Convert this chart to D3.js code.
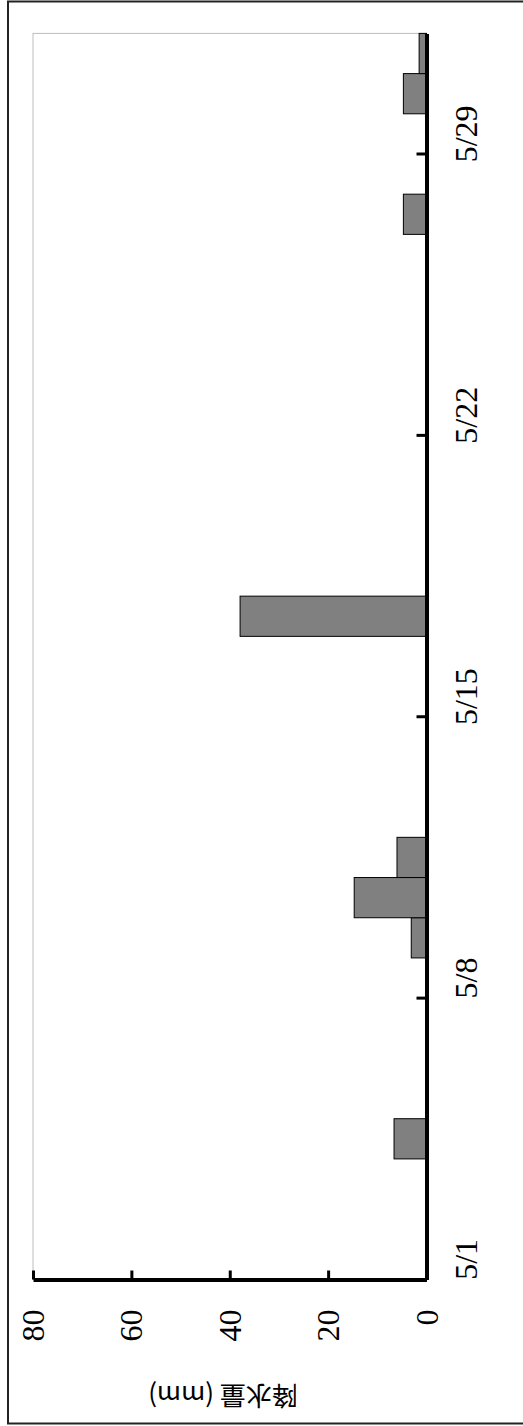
<!DOCTYPE html>
<html>
<head>
<meta charset="utf-8">
<script src="https://cdn.jsdelivr.net/npm/d3@7"></script>
<style>
html,body{margin:0;padding:0;background:#fff;}
svg{display:block;}
</style>
</head>
<body>
<svg id="chart" width="523" height="1426"></svg>
<script>
// Data
const dates = ["5/1","5/2","5/3","5/4","5/5","5/6","5/7","5/8","5/9","5/10","5/11","5/12","5/13","5/14","5/15","5/16","5/17","5/18","5/19","5/20","5/21","5/22","5/23","5/24","5/25","5/26","5/27","5/28","5/29","5/30","5/31"];
const rainfall = [0,0,0,6.6,0,0,0,0,3.1,14.7,6,0,0,0,0,0,37.9,0,0,0,0,0,0,0,0,0,4.7,0,0,4.7,1.5];
const dateTickLabels = ["5/1","5/8","5/15","5/22","5/29"];
const valueTicks = [0,20,40,60,80];
const yTitle = "降水量 (mm)";

const serif = '"Liberation Serif", "Times New Roman", serif';
const svg = d3.select("#chart");

// Chart is rotated 90° counter-clockwise: dates run bottom->top, values run right->left
const x = d3.scaleBand().domain(dates).range([1279.5, 33.4]).paddingInner(0).paddingOuter(0);
const y = d3.scaleLinear().domain([0, 80]).range([426.5, 33]);

// Outer frame
svg.append("rect").attr("x", 8).attr("y", 1.5).attr("width", 600).attr("height", 1422)
  .attr("fill", "none").attr("stroke", "#222").attr("stroke-width", 2);

// Plot area border (light gray)
svg.append("rect").attr("x", y(80)).attr("y", x.range()[1])
  .attr("width", y(0) - y(80)).attr("height", x.range()[0] - x.range()[1])
  .attr("fill", "none").attr("stroke", "#bdbdbd").attr("stroke-width", 1);

// Bars
svg.append("g").selectAll("rect")
  .data(dates.map((d, i) => ({date: d, v: rainfall[i]})).filter(d => d.v > 0))
  .join("rect")
  .attr("x", d => y(d.v))
  .attr("y", d => x(d.date))
  .attr("width", d => y(0) - y(d.v))
  .attr("height", x.bandwidth())
  .attr("fill", "#808080")
  .attr("stroke", "#000")
  .attr("stroke-width", 1);

// Value axis (at bottom of screen)
const vAxis = svg.append("g").attr("transform", `translate(0,${x.range()[0]})`)
  .call(d3.axisBottom(y).tickValues(valueTicks).tickSize(-9).tickPadding(0).tickSizeOuter(0));
vAxis.attr("font-family", null).attr("font-size", null);
vAxis.select(".domain").attr("stroke", "#000").attr("stroke-width", 4);
vAxis.selectAll(".tick line").attr("stroke", "#000").attr("stroke-width", 3);
vAxis.selectAll(".tick text")
  .style("font-family", serif)
  .style("font-size", "32px").attr("fill", "#000")
  .attr("text-anchor", "end")
  .attr("y", 0).attr("dy", "0.33em")
  .attr("transform", "translate(0,30) rotate(-90)");

// Category axis (right side of screen)
const cAxis = svg.append("g").attr("transform", `translate(${y(0)},0)`)
  .call(d3.axisRight(x).tickValues(dateTickLabels).tickSize(0).tickPadding(0).tickSizeOuter(0));
cAxis.attr("font-family", null).attr("font-size", null);
cAxis.select(".domain").attr("stroke", "#000").attr("stroke-width", 4);
cAxis.selectAll(".tick text")
  .style("font-family", serif)
  .style("font-size", "32px").attr("fill", "#000")
  .attr("text-anchor", "middle")
  .attr("x", 0).attr("dy", 0)
  .attr("transform", "translate(50.5,0) rotate(-90)");
// Tick marks between categories (at the lower boundary of each labelled date)
cAxis.selectAll(".tick").append("line")
  .attr("x1", -10).attr("x2", 0)
  .attr("y1", x.bandwidth() / 2).attr("y2", x.bandwidth() / 2)
  .attr("stroke", "#000").attr("stroke-width", 3);

// Axis title (upside-down due to rotation)
svg.append("text")
  .attr("transform", "translate(223,1397) rotate(180)")
  .attr("text-anchor", "middle")
  .attr("dominant-baseline", "central")
  .style("font-family", "'Noto Sans CJK JP','Noto Sans',sans-serif")
  .style("font-size", "26px").attr("fill", "#000")
  .text(yTitle);
</script>
</body>
</html>
